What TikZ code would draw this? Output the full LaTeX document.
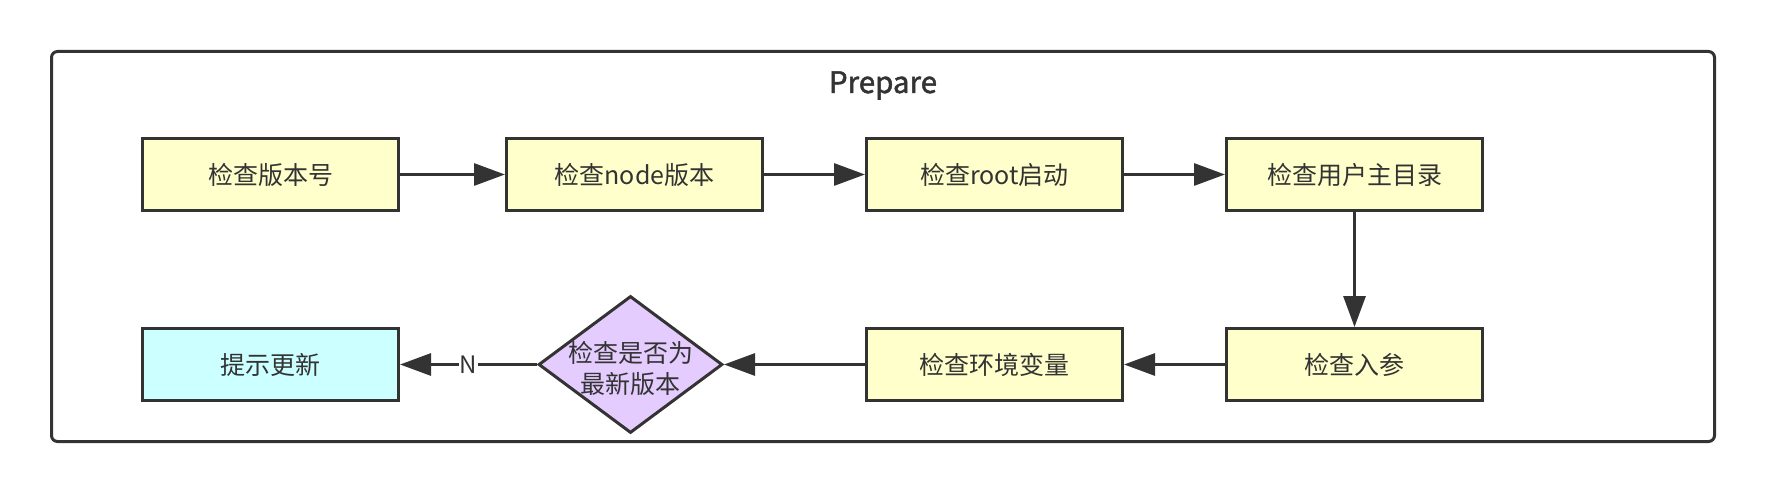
\documentclass[tikz,border=0pt]{standalone}
\usepackage{fontspec}
\newfontfamily\cjk{Noto Sans CJK SC}
\newfontfamily\cjkbold[FakeBold=1.6]{Noto Sans CJK SC}
\usetikzlibrary{shapes.geometric,arrows.meta}
\definecolor{ink}{HTML}{333333}
\definecolor{boxyellow}{HTML}{FFFFCC}
\definecolor{boxcyan}{HTML}{CCFFFF}
\definecolor{boxpurple}{HTML}{E5CCFF}
\begin{document}
\begin{tikzpicture}[x=1pt,y=-1pt,
  every node/.style={font=\cjk\fontsize{25}{31}\selectfont, text=ink},
  stepbox/.style={draw=ink, line width=3pt, fill=boxyellow, minimum width=256pt, minimum height=72pt, inner sep=0pt},
  decide/.style={diamond, draw=ink, line width=3pt, fill=boxpurple, minimum width=184pt, minimum height=137pt, inner sep=0pt},
  flow/.style={draw=ink, line width=3pt, -{Triangle[length=31pt,width=22pt]}},
  frame/.style={draw=ink, line width=3pt, rounded corners=6pt}
]
\useasboundingbox (0,0) rectangle (1766,494);
\node[frame, minimum width=1663pt, minimum height=390pt, inner sep=0pt] (frame) at (883,246.5) {};
\node[font=\cjkbold\fontsize{29.5}{33}\selectfont, anchor=base] (title) at (883,93) {Prepare};

\node[stepbox] (v) at (270.5,174.5) {检查版本号};
\node[stepbox] (n) at (634.5,174.5) {检查node版本};
\node[stepbox] (r) at (994.5,174.5) {检查root启动};
\node[stepbox] (u) at (1354.5,174.5) {检查用户主目录};
\node[stepbox] (p) at (1354.5,364.5) {检查入参};
\node[stepbox] (e) at (994.5,364.5) {检查环境变量};
\node[decide, label={[align=center, yshift=-4pt]center:检查是否为\\最新版本}] (d) at (630.5,364.5) {};
\node[stepbox, fill=boxcyan] (t) at (270.5,364.5) {提示更新};

\draw[flow] (v) -- (n);
\draw[flow] (n) -- (r);
\draw[flow] (r) -- (u);
\draw[flow] (u) -- (p);
\draw[flow] (p) -- (e);
\draw[flow] (e) -- (d);
\draw[flow] (d) -- node[pos=0.5, fill=white, inner sep=1pt, font=\cjk\fontsize{24}{28}\selectfont] (nlabel) {N} (t);
\end{tikzpicture}
\end{document}
